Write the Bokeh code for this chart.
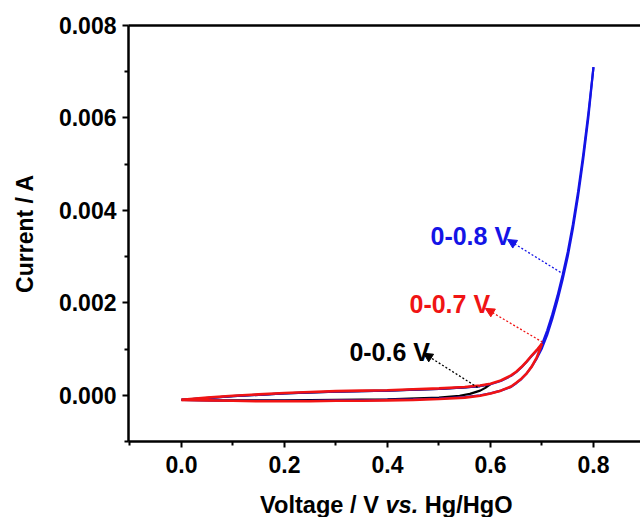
from bokeh.plotting import figure
from bokeh.layouts import column
from bokeh.models import Range1d, LinearAxis, Label, Arrow, NormalHead, FixedTicker, PrintfTickFormatter, Div
from bokeh.embed import file_html
from bokeh.resources import INLINE

FONT = "Liberation Sans"

# ---- data (Voltage in V, Current in A) ----
# 0-0.8 V scan (blue)
blue_v_fwd = [0.0, 0.05, 0.1, 0.15, 0.2, 0.25, 0.3, 0.35, 0.4, 0.45, 0.5, 0.55, 0.58, 0.6, 0.62, 0.64,
              0.65, 0.66, 0.67, 0.68, 0.69, 0.70, 0.71, 0.72, 0.73, 0.74, 0.75, 0.76, 0.77, 0.78, 0.79, 0.80]
blue_i_fwd = [-0.0001, -0.00006, -0.00002, 0.00001, 0.00004, 0.00006, 0.00008, 0.00009, 0.0001, 0.00012,
              0.00014, 0.00017, 0.0002, 0.00024, 0.00031, 0.00042, 0.0005, 0.0006, 0.00072, 0.00085,
              0.00097, 0.0011, 0.0014, 0.00175, 0.00215, 0.0026, 0.0031, 0.0037, 0.0044, 0.0052,
              0.0061, 0.0071]
blue_v_rev = [0.80, 0.79, 0.78, 0.77, 0.76, 0.75, 0.74, 0.73, 0.72, 0.71, 0.70, 0.69, 0.68, 0.67, 0.66,
              0.65, 0.64, 0.62, 0.60, 0.58, 0.55, 0.5, 0.45, 0.4, 0.35, 0.3, 0.25, 0.2, 0.15, 0.1,
              0.05, 0.0]
blue_i_rev = [0.0071, 0.006, 0.0051, 0.0043, 0.0036, 0.003, 0.0025, 0.00205, 0.00165, 0.0013, 0.00102,
              0.0008, 0.00062, 0.00047, 0.00035, 0.00026, 0.00018, 0.0001, 0.00004, 0.0, -0.00004,
              -0.00007, -0.00009, -0.0001, -0.00011, -0.00011, -0.00012, -0.00012, -0.00012,
              -0.00012, -0.00011, -0.0001]

# 0-0.7 V scan (red)
red_v_fwd = [0.0, 0.05, 0.1, 0.15, 0.2, 0.25, 0.3, 0.35, 0.4, 0.45, 0.5, 0.55, 0.58, 0.6, 0.62, 0.64,
             0.65, 0.66, 0.67, 0.68, 0.69, 0.70]
red_i_fwd = [-0.0001, -0.00005, -0.00001, 0.00002, 0.00005, 0.00007, 0.00009, 0.0001, 0.00011, 0.00013,
             0.00015, 0.00018, 0.00021, 0.00025, 0.00032, 0.00043, 0.00051, 0.00061, 0.00073, 0.00086,
             0.00098, 0.00112]
red_v_rev = [0.70, 0.69, 0.68, 0.67, 0.66, 0.65, 0.64, 0.62, 0.60, 0.58, 0.55, 0.5, 0.45, 0.4, 0.35,
             0.3, 0.25, 0.2, 0.15, 0.1, 0.05, 0.0]
red_i_rev = [0.00112, 0.00082, 0.00062, 0.00047, 0.00036, 0.00027, 0.00019, 0.0001, 0.00004, -0.00001,
             -0.00005, -0.00008, -0.0001, -0.00011, -0.00012, -0.00012, -0.00013, -0.00013,
             -0.00013, -0.00012, -0.00011, -0.0001]

# 0-0.6 V scan (black)
black_v = [0.0, 0.1, 0.2, 0.3, 0.4, 0.5, 0.55, 0.58, 0.6, 0.59, 0.58, 0.56, 0.54, 0.5, 0.4, 0.3,
           0.2, 0.1, 0.0]
black_i = [-0.0001, -0.00002, 0.00004, 0.00008, 0.0001, 0.00014, 0.00017, 0.0002, 0.00024, 0.00016,
           0.0001, 0.00003, -0.00001, -0.00005, -0.00009, -0.0001, -0.00011, -0.00011, -0.0001]

x_ticks = [0.0, 0.2, 0.4, 0.6, 0.8]
x_minor = [-0.1, 0.1, 0.3, 0.5, 0.7, 0.9]
y_ticks = [0.0, 0.002, 0.004, 0.006, 0.008]
y_minor = [-0.001, 0.001, 0.003, 0.005, 0.007]

x_title_html = "Voltage / V <i>vs.</i> Hg/HgO"
y_title = "Current / A"

# annotations: (text, color, text_x, text_y, arrow_start_x, arrow_start_y, arrow_end_x, arrow_end_y)
annotations = [
    ("0-0.8 V", "#1414e6", 0.4835, 0.00344, 0.736, 0.00266, 0.633, 0.00337),
    ("0-0.7 V", "#f01414", 0.4427, 0.00197, 0.701, 0.00115, 0.590, 0.00188),
    ("0-0.6 V", "#000000", 0.326, 0.00093, 0.575, 0.00017, 0.470, 0.00091),
]

p = figure(width=640, height=493, x_range=Range1d(-0.1029, 0.8913), y_range=Range1d(-0.001, 0.008),
           output_backend="svg", toolbar_location=None,
           min_border_left=128, min_border_right=0, min_border_top=25, min_border_bottom=52)
p.outline_line_color = None
p.grid.visible = False
p.background_fill_color = "white"
p.border_fill_color = "white"

for ax, ticks, minor, fmt in [(p.xaxis[0], x_ticks, x_minor, "%.1f"), (p.yaxis[0], y_ticks, y_minor, "%.3f")]:
    ax.ticker = FixedTicker(ticks=ticks, minor_ticks=minor)
    ax.formatter = PrintfTickFormatter(format=fmt)
    ax.axis_line_width = 2.5
    ax.axis_line_color = "black"
    ax.major_tick_line_width = 2
    ax.minor_tick_line_width = 2
    ax.major_tick_out = 6
    ax.major_tick_in = 0
    ax.minor_tick_out = 4
    ax.minor_tick_in = 0
    ax.major_label_text_font = FONT
    ax.major_label_text_font_style = "bold"
    ax.major_label_text_font_size = "23px"
    ax.major_label_text_color = "black"
p.xaxis.major_label_standoff = 8
p.yaxis.major_label_standoff = 6
p.yaxis.axis_label = y_title
p.yaxis.axis_label_text_font = FONT
p.yaxis.axis_label_text_font_style = "bold"
p.yaxis.axis_label_text_font_size = "23px"
p.yaxis.axis_label_text_color = "black"
p.yaxis.axis_label_standoff = 18

top = LinearAxis(ticker=FixedTicker(ticks=[]), axis_line_width=2.5, axis_line_color="black",
                 major_tick_line_color=None, minor_tick_line_color=None)
p.add_layout(top, "above")

p.line(black_v, black_i, line_color="black", line_width=2.2)
p.line(blue_v_fwd, blue_i_fwd, line_color="#1414e6", line_width=2.2)
p.line(blue_v_rev, blue_i_rev, line_color="#1414e6", line_width=2.2)
p.line(red_v_fwd, red_i_fwd, line_color="#f01414", line_width=2.6)
p.line(red_v_rev, red_i_rev, line_color="#f01414", line_width=2.6)

for txt, c, tx, ty, x0, y0, x1, y1 in annotations:
    p.add_layout(Label(x=tx, y=ty, text=txt, text_color=c, text_font=FONT, text_font_style="bold",
                       text_font_size="25px", text_baseline="alphabetic", text_align="left"))
    p.add_layout(Arrow(end=NormalHead(size=9, fill_color=c, line_color=c, line_width=1),
                       x_start=x0, y_start=y0, x_end=x1, y_end=y1,
                       line_color=c, line_dash="2 2", line_width=1.3))

title = Div(text=x_title_html, width=640, height=24, margin=(0, 0, 0, 0),
            styles={"font-family": FONT, "font-weight": "bold", "font-size": "23.6px",
                    "line-height": "24px", "padding-left": "260px", "color": "black",
                    "white-space": "nowrap", "background-color": "white"})

layout = column(p, title, spacing=0, margin=(0, 0, 0, 0))
open("out.html", "w").write(file_html(layout, INLINE))
